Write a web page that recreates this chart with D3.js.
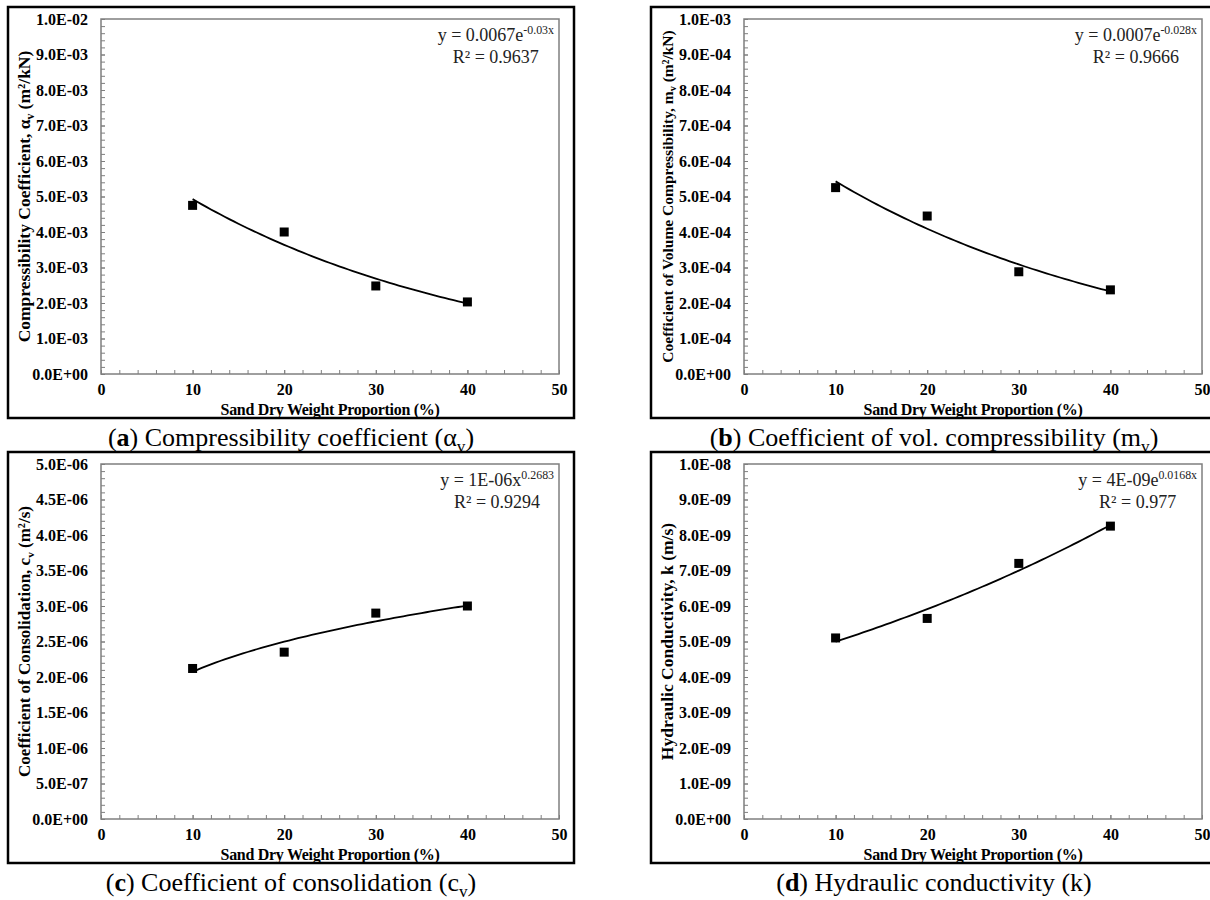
<!DOCTYPE html>
<html>
<head>
<meta charset="utf-8">
<script src="https://cdn.jsdelivr.net/npm/d3@7"></script>
<style>
  body { margin: 0; background: #fff; }
  text { font-family: 'Liberation Serif', 'Times New Roman', serif; }
</style>
</head>
<body>
<script>
// values
const sandPct = [10, 20, 30, 40];
const compressCoef = [4.75e-3, 4.0e-3, 2.48e-3, 2.03e-3];
const volCompress = [5.25e-4, 4.45e-4, 2.88e-4, 2.37e-4];
const consolCoef = [2.12e-6, 2.35e-6, 2.9e-6, 3.0e-6];
const hydCond = [5.1e-9, 5.65e-9, 7.2e-9, 8.25e-9];

const xTicks = [0, 10, 20, 30, 40, 50];
const xTitle = 'Sand Dry Weight Proportion (%)';

const W = 1210, H = 900;
const BOX_W = 566, BOX_H = 411;
const M = { left: 93, top: 12, right: 15, bottom: 44 };
const SERIF = "'Liberation Serif', 'Times New Roman', serif";

const svg = d3.select('body').append('svg')
  .attr('width', W)
  .attr('height', H);

const sci = (v) => {
  if (Math.abs(v) < 1e-20) return '0.0E+00';
  let [m, e] = v.toExponential(1).split('e');
  const sign = e[0] === '-' ? '-' : '+';
  e = e.replace(/[+-]/, '');
  return `${m}E${sign}${e.padStart(2, '0')}`;
};

// writes a list of {t, sub, sup, bold} pieces into a text element
const rich = (text, segs, size) => {
  let shift = 0;
  segs.forEach(s => {
    const target = s.sub ? size * 0.22 : s.sup ? -size * 0.38 : 0;
    text.append('tspan')
      .attr('dy', target - shift)
      .style('font-size', (s.sub || s.sup) ? `${size * 0.66}px` : `${size}px`)
      .style('font-weight', s.bold ? 'bold' : null)
      .text(s.t);
    shift = target;
  });
};

// least squares fits, like the spreadsheet trendlines
const expFit = (xs, ys) => {
  const ly = ys.map(Math.log);
  const mx = d3.mean(xs), my = d3.mean(ly);
  const b = d3.sum(xs, (x, i) => (x - mx) * (ly[i] - my)) / d3.sum(xs, x => (x - mx) ** 2);
  const a = Math.exp(my - b * mx);
  return x => a * Math.exp(b * x);
};

const powFit = (xs, ys) => {
  const lx = xs.map(Math.log), ly = ys.map(Math.log);
  const mx = d3.mean(lx), my = d3.mean(ly);
  const b = d3.sum(lx, (x, i) => (x - mx) * (ly[i] - my)) / d3.sum(lx, x => (x - mx) ** 2);
  const a = Math.exp(my - b * mx);
  return x => a * Math.pow(x, b);
};

const panels = [
  {
    ox: 8, oy: 7, values: compressCoef, yMax: 1e-2, yStep: 1e-3, fit: expFit,
    eq: [{ t: 'y = 0.0067e' }, { t: '-0.03x', sup: true }], r2: 'R² = 0.9637',
    title: [{ t: 'Compressibility Coefficient, α' }, { t: 'v', sub: true }, { t: ' (m²/kN)' }],
    titleSize: 17.5,
    caption: [{ t: '(' }, { t: 'a', bold: true }, { t: ') Compressibility coefficient (α' }, { t: 'v', sub: true }, { t: ')' }]
  },
  {
    ox: 651, oy: 7, values: volCompress, yMax: 1e-3, yStep: 1e-4, fit: expFit,
    eq: [{ t: 'y = 0.0007e' }, { t: '-0.028x', sup: true }], r2: 'R² = 0.9666',
    title: [{ t: 'Coefficient of Volume Compressibility, m' }, { t: 'v', sub: true }, { t: ' (m²/kN)' }],
    titleSize: 15.5,
    caption: [{ t: '(' }, { t: 'b', bold: true }, { t: ') Coefficient of vol. compressibility (m' }, { t: 'v', sub: true }, { t: ')' }]
  },
  {
    ox: 8, oy: 452, values: consolCoef, yMax: 5e-6, yStep: 5e-7, fit: powFit,
    eq: [{ t: 'y = 1E-06x' }, { t: '0.2683', sup: true }], r2: 'R² = 0.9294',
    title: [{ t: 'Coefficient of Consolidation, c' }, { t: 'v', sub: true }, { t: ' (m²/s)' }],
    titleSize: 17,
    caption: [{ t: '(' }, { t: 'c', bold: true }, { t: ') Coefficient of consolidation (c' }, { t: 'v', sub: true }, { t: ')' }]
  },
  {
    ox: 651, oy: 452, values: hydCond, yMax: 1e-8, yStep: 1e-9, fit: expFit,
    eq: [{ t: 'y = 4E-09e' }, { t: '0.0168x', sup: true }], r2: 'R² = 0.977',
    title: [{ t: 'Hydraulic Conductivity, k (m/s)' }],
    titleSize: 17.5,
    caption: [{ t: '(' }, { t: 'd', bold: true }, { t: ') Hydraulic conductivity (k)' }]
  }
];

const GRAY = '#7f7f7f';

panels.forEach(p => {
  const g = svg.append('g').attr('transform', `translate(${p.ox},${p.oy})`);

  // outer frame round each panel
  g.append('rect')
    .attr('x', 0).attr('y', 0)
    .attr('width', BOX_W).attr('height', BOX_H)
    .attr('fill', 'none').attr('stroke', '#000').attr('stroke-width', 2.5);

  const pw = BOX_W - M.left - M.right;
  const ph = BOX_H - M.top - M.bottom;
  const plot = g.append('g').attr('transform', `translate(${M.left},${M.top})`);

  const x = d3.scaleLinear().domain([0, 50]).range([0, pw]);
  const y = d3.scaleLinear().domain([0, p.yMax]).range([ph, 0]);

  const yTicks = d3.range(0, Math.round(p.yMax / p.yStep) + 1).map(i => i * p.yStep);
  const yMinor = d3.range(0, Math.round(p.yMax / p.yStep) * 5 + 1).map(i => i * p.yStep / 5);
  const xMinor = d3.range(0, 51, 2);

  // minor ticks
  plot.append('g')
    .attr('transform', `translate(0,${ph})`)
    .call(d3.axisBottom(x).tickValues(xMinor).tickSize(-4).tickFormat(''))
    .call(a => a.select('.domain').remove())
    .call(a => a.selectAll('line').attr('stroke', GRAY));

  plot.append('g')
    .call(d3.axisLeft(y).tickValues(yMinor).tickSize(-4).tickFormat(''))
    .call(a => a.select('.domain').remove())
    .call(a => a.selectAll('line').attr('stroke', GRAY));

  // labelled axes
  plot.append('g')
    .attr('transform', `translate(0,${ph})`)
    .call(d3.axisBottom(x).tickValues(xTicks).tickSize(-4).tickPadding(10).tickFormat(d3.format('d')))
    .call(a => a.select('.domain').remove())
    .call(a => a.selectAll('line').attr('stroke', GRAY))
    .call(a => a.selectAll('text')
      .attr('fill', '#000')
      .style('font-family', SERIF)
      .style('font-size', '16px').style('font-weight', 'bold'));

  plot.append('g')
    .call(d3.axisLeft(y).tickValues(yTicks).tickSize(-4).tickPadding(13).tickFormat(sci))
    .call(a => a.select('.domain').remove())
    .call(a => a.selectAll('line').attr('stroke', GRAY))
    .call(a => a.selectAll('text')
      .attr('fill', '#000')
      .style('font-family', SERIF)
      .style('font-size', '16px').style('font-weight', 'bold'));

  plot.append('rect')
    .attr('width', pw).attr('height', ph)
    .attr('fill', 'none').attr('stroke', GRAY).attr('stroke-width', 1.5);

  // trendline
  const f = p.fit(sandPct, p.values);
  const xs = d3.range(10, 40.01, 0.5);
  plot.append('path')
    .datum(xs)
    .attr('fill', 'none')
    .attr('stroke', '#000')
    .attr('stroke-width', 1.8)
    .attr('d', d3.line().x(d => x(d)).y(d => y(f(d))));

  // data points
  plot.selectAll('.pt')
    .data(sandPct.map((d, i) => ({ x: d, y: p.values[i] })))
    .join('rect')
    .attr('class', 'pt')
    .attr('x', d => x(d.x) - 4.5)
    .attr('y', d => y(d.y) - 4.5)
    .attr('width', 9).attr('height', 9)
    .attr('fill', '#000');

  // equation label
  const eq1 = plot.append('text')
    .attr('x', pw - 5).attr('y', 22)
    .attr('text-anchor', 'end')
    .attr('fill', '#222');
  rich(eq1, p.eq, 18);
  const w1 = eq1.node().getComputedTextLength();
  plot.append('text')
    .attr('x', pw - 5 - w1 / 2).attr('y', 44)
    .attr('text-anchor', 'middle')
    .attr('fill', '#222')
    .style('font-size', '18px')
    .text(p.r2);

  // axis titles
  plot.append('text')
    .attr('x', pw / 2).attr('y', ph + 41)
    .attr('text-anchor', 'middle')
    .style('font-size', '16px').style('font-weight', 'bold')
    .style('letter-spacing', '-0.3px')
    .text(xTitle);

  const yt = plot.append('text')
    .attr('transform', `translate(${-M.left + 22},${ph / 2}) rotate(-90)`)
    .attr('text-anchor', 'middle')
    .style('font-weight', 'bold');
  rich(yt, p.title, p.titleSize);

  // caption under the panel
  const cap = g.append('text')
    .attr('x', BOX_W / 2).attr('y', BOX_H + 28)
    .attr('text-anchor', 'middle');
  rich(cap, p.caption, 26);
});
</script>
</body>
</html>
